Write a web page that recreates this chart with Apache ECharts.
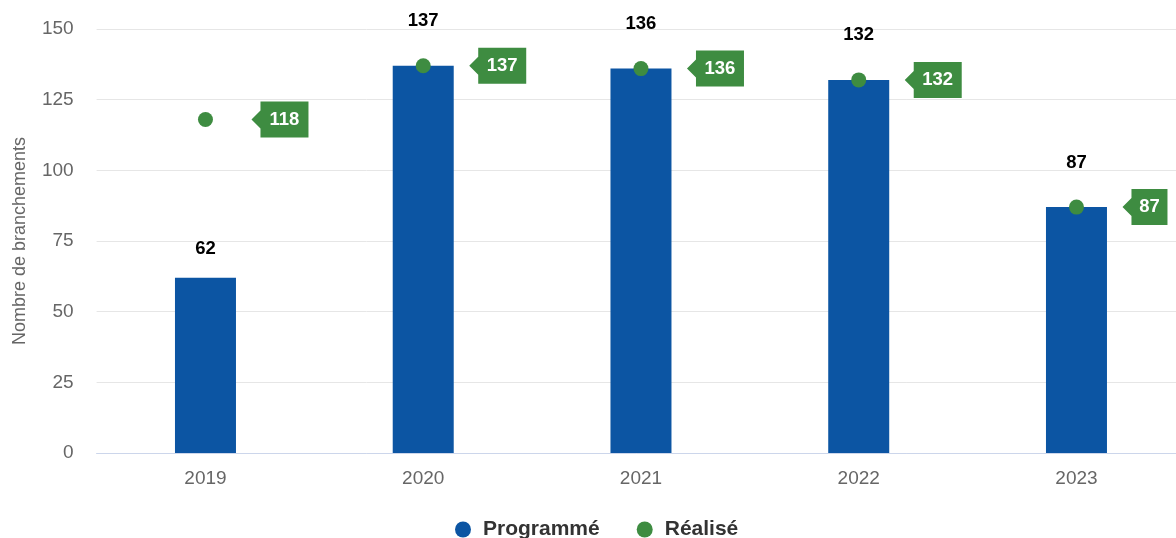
<!DOCTYPE html>
<html><head><meta charset="utf-8">
<script src="https://cdn.jsdelivr.net/npm/echarts@6/dist/echarts.min.js"></script>
<style>html,body{margin:0;padding:0;background:#fff}#c{width:1176px;height:538px}</style>
</head><body><div id="c"></div>
<script>
const categories = ['2019','2020','2021','2022','2023'];
const programme = [62,137,136,132,87];
const realise = [118,137,136,132,87];
const yTicks = [0,25,50,75,100,125,150];

const chart = echarts.init(document.getElementById('c'), null, {renderer:'canvas'});
const barColor = '#0c55a3';
const green = '#3e8c41';
const FF = '"Liberation Sans", Arial, sans-serif';
chart.setOption({
  animation:false,
  grid:{left:96.6, width:1088.75, top:29, bottom:85, containLabel:false, outerBoundsMode:'none'},
  legend:{
    data:['Programmé','Réalisé'], top:514, left:450,
    icon:'circle', itemWidth:16, itemHeight:16, itemGap:37,
    textStyle:{fontSize:21, fontWeight:'bold', color:'#333', fontFamily:FF, padding:[0,0,0,7]}
  },
  xAxis:{
    type:'category', data:categories,
    axisLine:{lineStyle:{color:'#ccd6eb'}}, axisTick:{show:false},
    axisLabel:{fontSize:19, color:'#666', margin:16, fontFamily:FF}
  },
  yAxis:{
    type:'value', min:yTicks[0], max:yTicks[yTicks.length-1], interval:25,
    name:'Nombre de branchements', nameLocation:'middle', nameGap:68,
    nameTextStyle:{fontSize:18, color:'#666', fontFamily:FF},
    axisLabel:{fontSize:19, color:'#666', margin:23, fontFamily:FF},
    splitLine:{lineStyle:{color:'#e6e6e6'}}, axisLine:{show:false}, axisTick:{show:false}
  },
  series:[
    {
      name:'Programmé', type:'bar', barWidth:61, itemStyle:{color:barColor},
      data: programme.map((v,i)=>({value:v, label:{distance: realise[i]===v ? 35 : 19}})),
      label:{show:true, position:'top', fontSize:18.5, fontWeight:'bold', color:'#000', fontFamily:FF}
    },
    {
      name:'Réalisé', type:'scatter', symbol:'circle', symbolSize:15, itemStyle:{color:green, opacity:1},
      data: realise, z:5
    },
    {
      name:'tag', type:'custom', z:6, silent:true,
      data: realise.map((v,i)=>[i,v]),
      renderItem:function(params, api){
        const p = api.coord([api.value(0), api.value(1)]);
        const txt = String(api.value(1));
        const w = 12 + txt.length*12;
        const h = 36;
        const tipX = p[0] + 46;
        const bx = tipX + 9;
        const y = p[1];
        return {
          type:'group',
          children:[
            {type:'polygon', shape:{points:[[tipX,y],[bx,y-9],[bx,y-h/2],[bx+w,y-h/2],[bx+w,y+h/2],[bx,y+h/2],[bx,y+9]]},
             style:{fill:green}},
            {type:'text', style:{text:txt, x:bx+w/2, y:y, align:'center', verticalAlign:'middle',
             fill:'#fff', font:'bold 18.5px "Liberation Sans", Arial, sans-serif'}}
          ]
        };
      }
    }
  ]
});
</script></body></html>
